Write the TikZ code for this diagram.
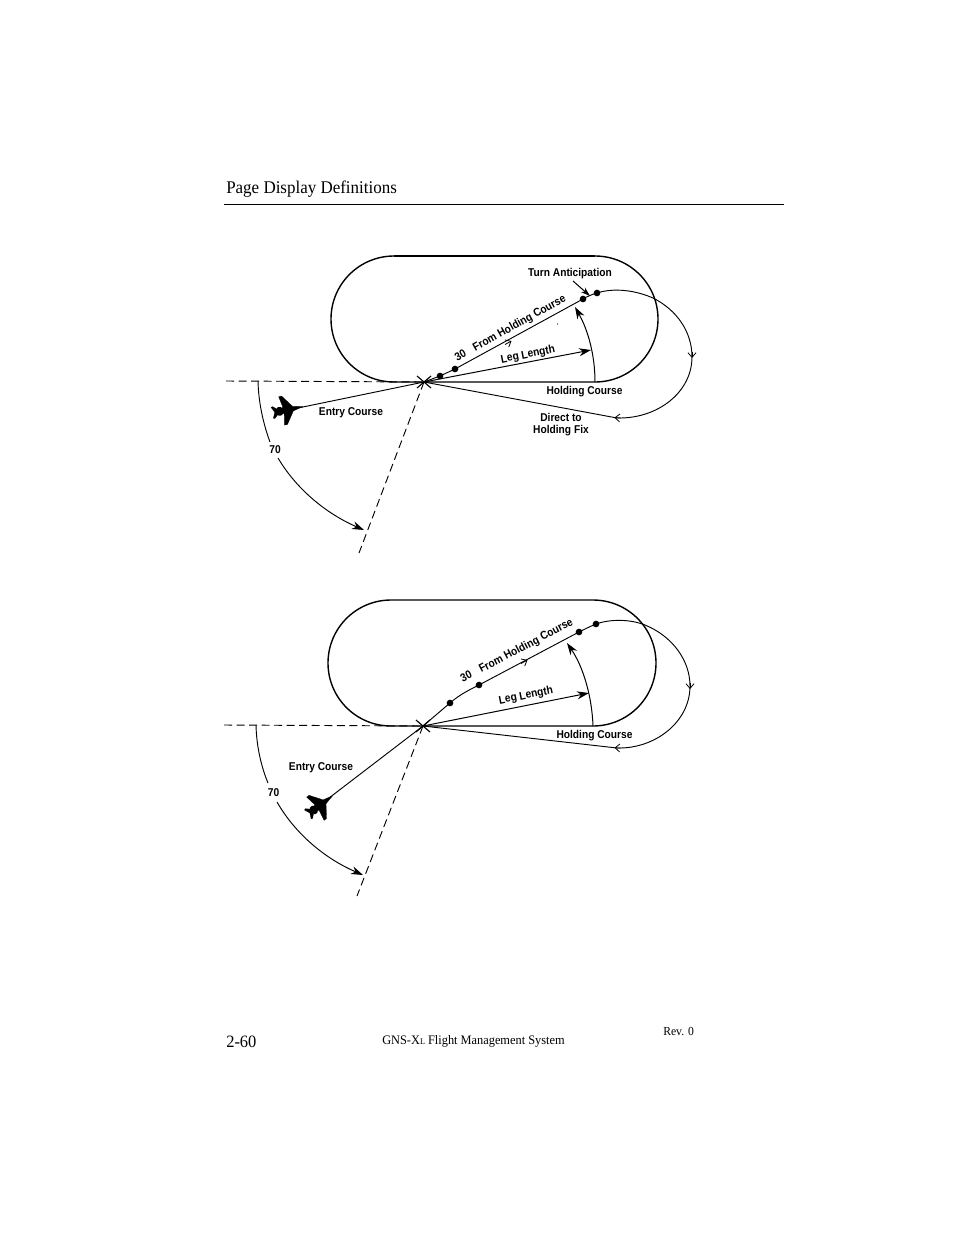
\documentclass[tikz,border=0pt]{standalone}
\usepackage{fontspec}
\setmainfont{Liberation Serif}
\newfontfamily\labf[FakeStretch=0.9]{Liberation Sans}
\newfontfamily\headf[FakeStretch=0.95]{Liberation Serif}
\usetikzlibrary{arrows.meta}
\tikzset{
  x=0.75pt,y=-0.75pt,
  racetrack/.style={line width=1.05pt,black},
  thinline/.style={line width=0.7pt,black},
  dashline/.style={line width=0.7pt,black,dash pattern=on 6pt off 3.4pt},
  solidarrow/.style={line width=0.75pt,black,-{Stealth[length=9pt,width=6pt]}},
  openarrow/.style={line width=0.6pt,black,-{Straight Barb[length=3.5pt,width=6pt]}},
  wpdot/.style={circle,fill=black,inner sep=0pt,minimum size=5pt},
  lab/.style={inner sep=0pt,align=center,font=\labf\bfseries\fontsize{8.5}{8.5}\selectfont},
  plane/.style={fill=black,draw=black,line width=0.2pt},
}
\newcommand{\planeshape}{%
  \filldraw[plane] (17,0) -- (7,-2.4) -- (-1.5,-14.5) -- (-4.5,-14.5) -- (-2.5,-3.2) -- (-8,-2) -- (-12.5,-6) -- (-14,-5.5) -- (-11.5,0) -- (-14,5.5) -- (-12.5,6) -- (-8,2) -- (-2.5,3.2) -- (-4.5,14.5) -- (-1.5,14.5) -- (7,2.4) -- cycle;
  \fill[black] (-6.5,-3) ellipse (2.6 and 1.4);
  \fill[black] (-6.5,3) ellipse (2.6 and 1.4);
}
\begin{document}
\begin{tikzpicture}
\useasboundingbox (0,0) rectangle (954,1235);
\fill[white] (0,0) rectangle (954,1235);

% header and footer
\node[anchor=base west,inner sep=0pt,font=\headf\fontsize{13.4}{14}\selectfont] (title) at (226,193) {Page Display Definitions};
\coordinate (ruleL) at (224,204);
\coordinate (ruleR) at (784,204);
\draw[line width=0.5pt] (ruleL) -- (ruleR);
\node[anchor=base west,inner sep=0pt,font=\headf\fontsize{13}{14}\selectfont] (pageno) at (226,1047) {2-60};
\node[anchor=base west,inner sep=0pt,font=\headf\fontsize{9.75}{10}\selectfont] (sys) at (382,1044.5) {GNS-X{\fontsize{6.5}{7}\selectfont L} Flight Management System};
\node[anchor=base west,inner sep=0pt,font=\headf\fontsize{9.2}{10}\selectfont] (rev) at (663,1035) {Rev. 0};

% ===== top diagram =====
\coordinate (fixA) at (424,382);
\draw[racetrack] (394,382) arc[start angle=90,end angle=270,radius=63] -- (595,256) arc[start angle=270,end angle=450,radius=63] -- cycle;
\draw[line width=1.5pt] (394,256) -- (595,256);
\coordinate (dhA) at (226,381);
\coordinate (ddA) at (359,553);
\draw[dashline] (dhA) -- (fixA);
\draw[dashline] (fixA) -- (ddA);
\draw[line width=0.85pt] (417,376) -- (431,388) (417,388) -- (431,376);
% 70 arc
\node[lab] (seventyA) at (275,449.5) {70};
\coordinate (a70A) at (258,381);
\coordinate (b70A) at (270,442);
\coordinate (c70A) at (278,458);
\coordinate (d70A) at (364,530);
\draw[thinline] (a70A) .. controls (258.5,402) and (263,423) .. (b70A);
\draw[solidarrow,line width=0.7pt] (c70A) .. controls (297,490) and (327,514) .. (d70A);
% entry
\begin{scope}[shift={(286,410)},rotate=11.6]\planeshape\end{scope}
\coordinate (noseA) at (298,408);
\draw[thinline] (noseA) -- (fixA);
\node[lab] (entryA) at (351,412.5) {Entry Course};
% waypoints
\node[wpdot] (w1A) at (440,376) {};
\node[wpdot] (w2A) at (455,369) {};
\node[wpdot] (w3A) at (583,299) {};
\node[wpdot] (w4A) at (597,293) {};
\draw[thinline] (fixA) -- (w1A.center) -- (w2A.center) -- (w3A.center) .. controls (588,296) and (592,294.5) .. (w4A.center);
\coordinate (retA) at (617,418);
\draw[thinline] (w4A.center) .. controls (609,289) and (630,288) .. (653,298) .. controls (677,310) and (692,332) .. (692,357) .. controls (692,392) and (658,419) .. (retA) -- (fixA);
\draw[openarrow] (692,352) -- (692,358);
\draw[openarrow] (621,418) -- (614.5,417.6);
\draw[openarrow] (505,344.5) -- (511.5,341);
% leg length, arc
\coordinate (legA) at (591,350);
\draw[solidarrow] (fixA) -- (legA);
\coordinate (arcsA) at (595,382);
\coordinate (arceA) at (575,307);
\draw[solidarrow] (arcsA) .. controls (595,355) and (588,330) .. (arceA);
\coordinate (taA) at (573,281);
\coordinate (tbA) at (590,296);
\draw[solidarrow,-{Stealth[length=7pt,width=4.5pt]}] (taA) -- (tbA);
\fill (557.5,324) circle (0.6);
\node[lab] (turnA) at (570,273.5) {Turn Anticipation};
\node[lab,rotate=29] (fromA) at (510.5,328.5) {30\hspace{7pt}From Holding Course};
\node[lab,rotate=11] (llA) at (528,355) {Leg Length};
\node[lab] (hcA) at (584.5,392) {Holding Course};
\node[lab,font=\labf\bfseries\fontsize{8.5}{8.4}\selectfont] (dirA) at (561,424.5) {Direct to\\Holding Fix};

% ===== bottom diagram =====
\coordinate (fixB) at (423,726);
\draw[racetrack] (391,726) arc[start angle=90,end angle=270,radius=63] -- (593,600) arc[start angle=270,end angle=450,radius=63] -- cycle;
\coordinate (dhB) at (224,725);
\coordinate (ddB) at (357,896);
\draw[dashline] (dhB) -- (fixB);
\draw[dashline] (fixB) -- (ddB);
\draw[line width=0.85pt] (416,720) -- (430,732) (416,732) -- (430,720);
\node[lab] (seventyB) at (273.5,792.5) {70};
\coordinate (a70B) at (256,725);
\coordinate (b70B) at (268,783);
\coordinate (c70B) at (277,802);
\coordinate (d70B) at (363,875);
\draw[thinline] (a70B) .. controls (256.5,746) and (261,766) .. (b70B);
\draw[solidarrow,line width=0.7pt] (c70B) .. controls (296,835) and (326,859) .. (d70B);
\begin{scope}[shift={(319,806)},rotate=37]\planeshape\end{scope}
\coordinate (noseB) at (329,798);
\draw[thinline] (noseB) -- (fixB);
\node[lab] (entryB) at (321,767.5) {Entry Course};
\node[wpdot] (w1B) at (450,703) {};
\node[wpdot] (w2B) at (479,685) {};
\node[wpdot] (w3B) at (579,632) {};
\node[wpdot] (w4B) at (596,624) {};
\draw[thinline] (fixB) -- (w1B.center) .. controls (459,695) and (469,690) .. (w2B.center) -- (w3B.center) .. controls (585,629) and (590,626.5) .. (w4B.center);
\coordinate (retB) at (617,748);
\draw[thinline] (w4B.center) .. controls (610,619) and (630,619) .. (645,625) .. controls (672,636) and (690,660) .. (690,686) .. controls (690,722) and (655,749) .. (retB) -- (fixB);
\draw[openarrow] (690,683) -- (690,689);
\draw[openarrow] (621,748) -- (614.5,747.8);
\draw[openarrow] (521,663.5) -- (527.5,660);
\coordinate (legB) at (589,693);
\draw[solidarrow] (fixB) -- (legB);
\coordinate (arcsB) at (593,726);
\coordinate (arceB) at (567,643);
\draw[solidarrow] (arcsB) .. controls (592,698) and (584,668) .. (arceB);
\node[lab,rotate=27.5] (fromB) at (517,651) {30\hspace{7pt}From Holding Course};
\node[lab,rotate=11] (llB) at (526,696) {Leg Length};
\node[lab] (hcB) at (594.5,735.5) {Holding Course};
\end{tikzpicture}
\end{document}
